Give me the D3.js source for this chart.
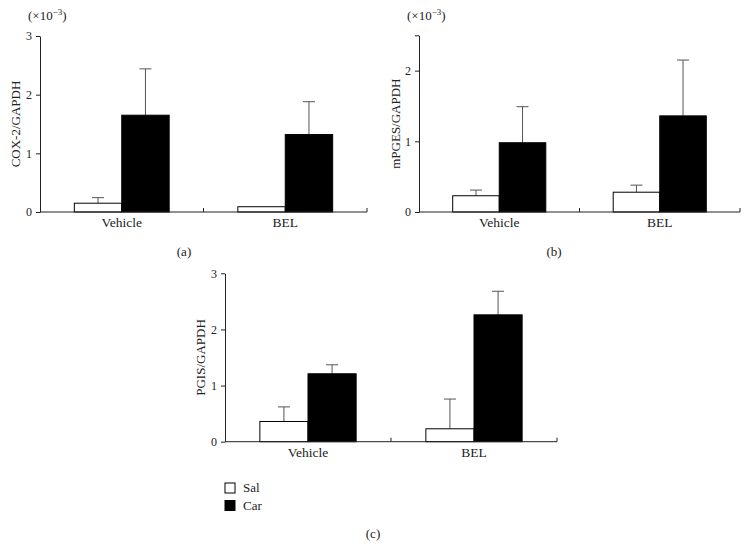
<!DOCTYPE html>
<html>
<head>
<meta charset="utf-8">
<script src="https://cdn.jsdelivr.net/npm/d3@7"></script>
<style>
	body { margin: 0; background: #fff; }
	text { font-family: "Liberation Serif", "DejaVu Serif", serif; fill: #222; }
</style>
</head>
<body>
<svg id="chart" width="748" height="544"></svg>
<script>
const groups = ["Vehicle", "BEL"];
const series = ["Sal", "Car"];

// mean and upper error (SD) per group (x10^-3)
const cox2Sal = [0.15, 0.09];
const cox2SalErr = [0.095, 0];
const cox2Car = [1.65, 1.32];
const cox2CarErr = [0.79, 0.56];

const mpgesSal = [0.23, 0.28];
const mpgesSalErr = [0.08, 0.10];
const mpgesCar = [0.98, 1.36];
const mpgesCarErr = [0.51, 0.79];

const pgisSal = [0.36, 0.23];
const pgisSalErr = [0.26, 0.53];
const pgisCar = [1.21, 2.26];
const pgisCarErr = [0.16, 0.42];

const svg = d3.select("#chart");

function drawPanel(p) {
	const g = svg.append("g");

	const y = d3.scaleLinear()
		.domain([0, p.max])
		.range([p.bottom, p.top]);

	const x0 = d3.scaleBand()
		.domain(groups)
		.range([p.left, p.right])
		.paddingInner(0.42)
		.paddingOuter(0.21);

	const x1 = d3.scaleBand()
		.domain(series)
		.range([0, x0.bandwidth()]);

	const rows = [];
	groups.forEach((grp, i) => {
		rows.push({ group: grp, s: "Sal", v: p.sal[i], e: p.salErr[i] });
		rows.push({ group: grp, s: "Car", v: p.car[i], e: p.carErr[i] });
	});

	// error bars first so the stem sits behind the bar outline
	const err = g.selectAll(".err")
		.data(rows.filter(d => d.e > 0))
		.enter().append("g")
		.attr("stroke", "#555")
		.attr("stroke-width", 1);

	err.append("line")
		.attr("x1", d => x0(d.group) + x1(d.s) + x1.bandwidth() / 2)
		.attr("x2", d => x0(d.group) + x1(d.s) + x1.bandwidth() / 2)
		.attr("y1", d => y(d.v))
		.attr("y2", d => y(d.v + d.e));

	err.append("line")
		.attr("x1", d => x0(d.group) + x1(d.s) + x1.bandwidth() / 2 - 6)
		.attr("x2", d => x0(d.group) + x1(d.s) + x1.bandwidth() / 2 + 6)
		.attr("y1", d => y(d.v + d.e))
		.attr("y2", d => y(d.v + d.e));

	g.selectAll(".bar")
		.data(rows)
		.enter().append("rect")
		.attr("x", d => x0(d.group) + x1(d.s))
		.attr("y", d => y(d.v))
		.attr("width", x1.bandwidth())
		.attr("height", d => p.bottom - y(d.v))
		.attr("fill", d => d.s === "Sal" ? "#fff" : "#000")
		.attr("stroke", "#000")
		.attr("stroke-width", 1);

	// y axis
	const yAxis = g.append("g")
		.attr("transform", `translate(${p.left},0)`)
		.call(d3.axisLeft(y)
			.tickValues(p.ticks)
			.tickSize(4)
			.tickSizeOuter(0)
			.tickPadding(4)
			.tickFormat(d => Number.isInteger(d) ? d : ""));
	yAxis.select(".domain").attr("stroke", "#222");
	yAxis.selectAll(".tick line").attr("stroke", "#222");
	yAxis.selectAll("text")
		.attr("font-size", "12px")
		.attr("fill", "#222")
		.style("font-family", "Liberation Serif");

	// x axis baseline with small upward ticks between groups and at the end
	g.append("line")
		.attr("x1", p.left).attr("x2", p.right)
		.attr("y1", p.bottom).attr("y2", p.bottom)
		.attr("stroke", "#222");
	[(p.left + p.right) / 2, p.right].forEach(xx => {
		g.append("line")
			.attr("x1", xx).attr("x2", xx)
			.attr("y1", p.bottom).attr("y2", p.bottom - 4)
			.attr("stroke", "#222");
	});

	g.selectAll(".cat")
		.data(groups)
		.enter().append("text")
		.attr("x", d => x0(d) + x0.bandwidth() / 2)
		.attr("y", p.bottom + 15)
		.attr("text-anchor", "middle")
		.attr("font-size", "13.5px")
		.text(d => d);

	g.append("text")
		.attr("transform", `translate(${p.labelX},${(p.top + p.bottom) / 2}) rotate(-90)`)
		.attr("text-anchor", "middle")
		.attr("dy", "0.35em")
		.attr("font-size", "13px")
		.text(p.label);

	if (p.scaleNote) {
		const t = g.append("text")
			.attr("x", p.left - 12)
			.attr("y", 20)
			.attr("font-size", "13px");
		t.append("tspan").text("(×10");
		t.append("tspan").attr("font-size", "9px").attr("dy", "-5").text("−3");
		t.append("tspan").attr("dy", "5").text(")");
	}

	g.append("text")
		.attr("x", p.captionX)
		.attr("y", p.captionY)
		.attr("text-anchor", "middle")
		.attr("font-size", "13px")
		.text(p.caption);
}

drawPanel({
	left: 40, right: 367, top: 36, bottom: 212, max: 3, ticks: [0, 1, 2, 3],
	sal: cox2Sal, salErr: cox2SalErr, car: cox2Car, carErr: cox2CarErr,
	label: "COX-2/GAPDH", labelX: 15, scaleNote: true,
	caption: "(a)", captionX: 184, captionY: 256
});

drawPanel({
	left: 419, right: 740, top: 35.3, bottom: 212, max: 2.5, ticks: [0, 1, 2, 2.5],
	sal: mpgesSal, salErr: mpgesSalErr, car: mpgesCar, carErr: mpgesCarErr,
	label: "mPGES/GAPDH", labelX: 395, scaleNote: true,
	caption: "(b)", captionX: 554, captionY: 256
});

drawPanel({
	left: 225, right: 557, top: 273.3, bottom: 441.7, max: 3, ticks: [0, 1, 2, 3],
	sal: pgisSal, salErr: pgisSalErr, car: pgisCar, carErr: pgisCarErr,
	label: "PGIS/GAPDH", labelX: 200, scaleNote: false,
	caption: "(c)", captionX: 373, captionY: 538
});

// legend
const legend = svg.append("g")
	.selectAll("g")
	.data(series)
	.enter().append("g")
	.attr("transform", (d, i) => `translate(225,${483 + i * 17.5})`);

legend.append("rect")
	.attr("width", 10)
	.attr("height", 10)
	.attr("fill", d => d === "Sal" ? "#fff" : "#000")
	.attr("stroke", "#000");

legend.append("text")
	.attr("x", 18)
	.attr("y", 9)
	.attr("font-size", "13px")
	.text(d => d);
</script>
</body>
</html>
